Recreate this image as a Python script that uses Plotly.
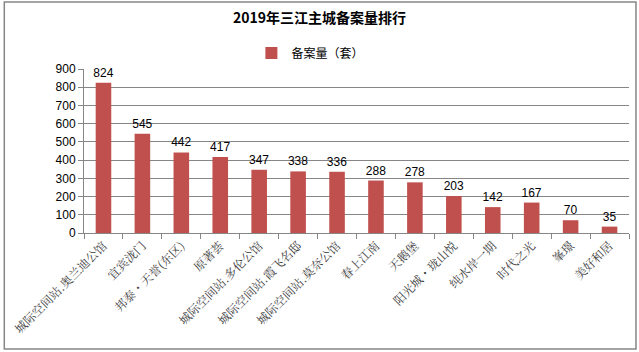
import plotly.graph_objects as go

categories = ["城际空间站.奥兰迪公馆", "宜宾泷门", "邦泰・天誉(东区)", "原著荟", "城际空间站.多伦公馆",
              "城际空间站.霞飞名邸", "城际空间站.莫奈公馆", "春上江南", "天鹅堡", "阳光城・珑山悦",
              "纯水岸一期", "时代之光", "峯璟", "美好和居"]
values = [824, 545, 442, 417, 347, 338, 336, 288, 278, 203, 142, 167, 70, 35]
series_name = "备案量（套）"
title = "2019年三江主城备案量排行"
y_ticks = [0, 100, 200, 300, 400, 500, 600, 700, 800, 900]

W, H = 639, 352
L, R, T, B = 82, 10, 69, 119
pw, ph = W - L - R, H - T - B

fig = go.Figure()
fig.add_trace(go.Bar(
    x=categories, y=values, name=series_name,
    marker=dict(color="#C0504D", line=dict(width=0)),
    text=[str(v) for v in values], textposition="outside",
    textfont=dict(family="Liberation Sans, Arial", size=12, color="#000000"),
    cliponaxis=False,
))

fig.update_layout(
    width=W, height=H,
    margin=dict(l=L, r=R, t=T, b=B, pad=0),
    paper_bgcolor="white", plot_bgcolor="white",
    bargap=0.6,
    uniformtext=dict(minsize=12, mode="show"),
    showlegend=True,
    title=dict(text="<b>" + title + "</b>", x=0.5, xanchor="center", y=1 - 18 / H, yanchor="middle",
               font=dict(family="Noto Sans CJK SC", size=14, color="#000000")),
    legend=dict(orientation="h", x=(250 - L) / pw, xanchor="left", y=1 + (69 - 53) / ph, yanchor="middle",
                font=dict(family="Noto Sans CJK SC", size=12, color="#000000"),
                itemwidth=30, bgcolor="rgba(0,0,0,0)"),
    xaxis=dict(
        type="category", tickangle=-45,
        tickfont=dict(family="Noto Serif CJK SC, Noto Sans CJK SC", size=12, color="#404040"),
        showline=True, linecolor="#868686", linewidth=1,
        ticks="outside", ticklen=5, tickcolor="#868686", tickson="boundaries",
        showgrid=False,
    ),
    yaxis=dict(
        range=[0, 900], tickvals=y_ticks,
        tickfont=dict(family="Liberation Sans, Arial", size=12, color="#000000"),
        showline=True, linecolor="#868686", linewidth=1,
        ticks="outside", ticklen=5, tickcolor="#868686",
        showgrid=True, gridcolor="#868686", gridwidth=1,
        zeroline=False,
    ),
    shapes=[dict(type="rect", xref="paper", yref="paper",
                 x0=(2 - L) / pw, x1=(636 - L) / pw,
                 y0=-(349 - (T + ph)) / ph, y1=1 + (T - 2) / ph,
                 line=dict(color="#868686", width=1.5), fillcolor="rgba(0,0,0,0)", layer="below")],
)

fig.write_html("out.html")
